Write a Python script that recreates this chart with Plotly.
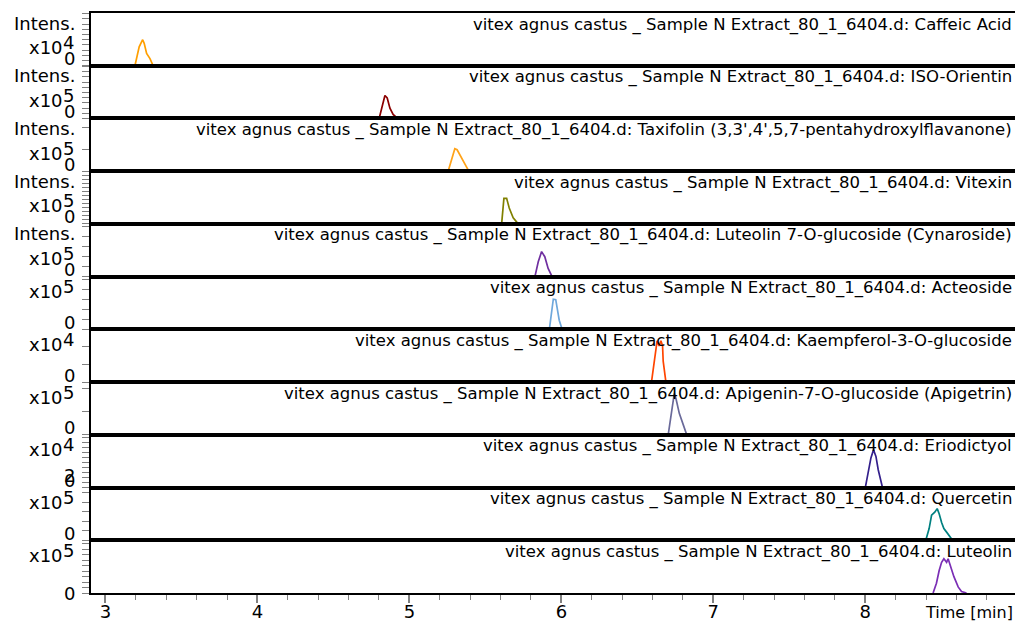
import plotly.graph_objects as go

# ---------------- data ----------------
sample = "vitex agnus castus _ Sample N Extract_80_1_6404.d: "
compounds = ["Caffeic Acid", "ISO-Orientin",
             "Taxifolin (3,3',4',5,7-pentahydroxylflavanone)", "Vitexin",
             "Luteolin 7-O-glucoside (Cynaroside)", "Acteoside",
             "Kaempferol-3-O-glucoside", "Apigenin-7-O-glucoside (Apigetrin)",
             "Eriodictyol", "Quercetin", "Luteolin"]
exponents = [4, 5, 5, 5, 5, 5, 4, 5, 4, 5, 5]
y_max = [6.0e4, 2.0e5, 2.4e5, 1.4e5, 1.6e5, 5.0e5, 3.0e4, 2.3e5, 5.0e4, 5.5e5, 1.0e6]

caffeic_t = [3.194, 3.212, 3.222, 3.245, 3.255, 3.271, 3.293, 3.314]
caffeic_i = [0, 12500, 21500, 29600, 25500, 13900, 8100, 0]
isoorientin_t = [4.801, 4.824, 4.839, 4.854, 4.872, 4.893, 4.922]
isoorientin_i = [0, 52000, 87000, 77500, 38700, 15500, 0]
taxifolin_t = [5.255, 5.278, 5.299, 5.314, 5.343, 5.365, 5.391]
taxifolin_i = [0, 60000, 102000, 97500, 60000, 30000, 0]
vitexin_t = [5.607, 5.615, 5.622, 5.640, 5.657, 5.683, 5.716]
vitexin_i = [0, 47400, 67800, 67800, 42000, 16300, 0]
cynaroside_t = [5.826, 5.848, 5.870, 5.891, 5.913, 5.939]
cynaroside_i = [0, 45000, 76000, 60500, 24800, 0]
acteoside_t = [5.921, 5.934, 5.947, 5.963, 5.976, 5.986, 6.005]
acteoside_i = [0, 169000, 286000, 281000, 169000, 87000, 0]
kaempferol_t = [6.593, 6.609, 6.622, 6.630, 6.643, 6.655, 6.666, 6.670, 6.688]
kaempferol_i = [0, 10200, 19700, 23500, 20600, 23500, 20600, 11900, 0]
apigetrin_t = [6.703, 6.719, 6.732, 6.743, 6.754, 6.776, 6.803, 6.825]
apigetrin_i = [0, 71200, 151000, 180000, 158000, 93500, 42300, 0]
eriodictyol_t = [8.000, 8.015, 8.037, 8.054, 8.070, 8.085, 8.113]
eriodictyol_i = [0, 12100, 28100, 35800, 29500, 16900, 0]
quercetin_t = [8.398, 8.420, 8.436, 8.457, 8.473, 8.486, 8.502, 8.517, 8.535, 8.551, 8.567, 8.596]
quercetin_i = [0, 122000, 261000, 293000, 330000, 277000, 186000, 122000, 85000, 53000, 16000, 0]
luteolin_t = [8.446, 8.468, 8.486, 8.502, 8.517, 8.535, 8.545, 8.561, 8.583, 8.611, 8.633, 8.666]
luteolin_i = [0, 184000, 426000, 581000, 649000, 581000, 649000, 494000, 310000, 116000, 29000, 0]

x_ticks = [3, 4, 5, 6, 7, 8]

# ---------------- styles ----------------
times = [caffeic_t, isoorientin_t, taxifolin_t, vitexin_t, cynaroside_t, acteoside_t,
         kaempferol_t, apigetrin_t, eriodictyol_t, quercetin_t, luteolin_t]
intens = [caffeic_i, isoorientin_i, taxifolin_i, vitexin_i, cynaroside_i, acteoside_i,
          kaempferol_i, apigetrin_i, eriodictyol_i, quercetin_i, luteolin_i]
colors = ["#FF9F00", "#8B0000", "#FFA31A", "#808000", "#7030A0", "#6FA8DC",
          "#FF4500", "#6A6A9A", "#34208C", "#008080", "#7B2FB5"]
tick_px = [5.2, 5.2, 22, 4, 10, 10, 17.6, 23, 5, 9.5, 5.5]

W, H = 1015, 624
ML, MR, MT, MB = 91, 0, 13, 31
n = len(compounds)
panel_px = (H - MT - MB) / n
xr = [2.905, 8.985]

fig = go.Figure()
layout = dict(width=W, height=H, margin=dict(l=ML, r=MR, t=MT, b=MB, autoexpand=False),
              paper_bgcolor="white", plot_bgcolor="white", showlegend=False,
              font=dict(family="DejaVu Sans", size=18, color="black"))
annotations = []
lab_font = dict(family="DejaVu Sans", size=18, color="black")
txt_font = dict(family="DejaVu Sans", size=16.5, color="black")

for i in range(n):
    k = "" if i == 0 else str(i + 1)
    top = 1 - i / n
    bot = 1 - (i + 1) / n
    fig.add_trace(go.Scatter(x=times[i], y=intens[i], mode="lines",
                             line=dict(color=colors[i], width=1.7),
                             xaxis="x" + k, yaxis="y" + k, hoverinfo="skip"))
    last = (i == n - 1)
    xa = dict(domain=[0, 1], range=xr, anchor="y" + k, showline=True, mirror=True,
              linecolor="black", linewidth=1.5, showgrid=False, zeroline=False,
              automargin=False)
    if i > 0:
        xa["matches"] = "x"
    if last:
        xa.update(ticks="outside", ticklen=8, tickwidth=1.5, tickcolor="#808080",
                  tickvals=x_ticks, showticklabels=True, ticklabelstandoff=-6,
                  tickfont=dict(family="DejaVu Sans", size=18),
                  minor=dict(dtick=0.2, ticks="outside", ticklen=5, tickwidth=1.2,
                             tickcolor="#808080"))
    else:
        xa.update(ticks="", showticklabels=False)
    layout["xaxis" + k] = xa
    dt = tick_px[i] / panel_px * y_max[i]
    layout["yaxis" + k] = dict(domain=[bot, top], range=[0, y_max[i]], anchor="x" + k,
                               showline=True, linecolor="black", linewidth=2,
                               ticks="outside", ticklen=7, tickwidth=1.3,
                               tickcolor="#808080", tick0=0, dtick=dt,
                               showticklabels=False, showgrid=False, zeroline=False,
                               automargin=False)
    # compound label
    annotations.append(dict(xref="paper", yref="paper", x=1, y=top, xanchor="right",
                            yanchor="middle", xshift=-1, yshift=-11.5, showarrow=False,
                            text=sample + compounds[i], font=txt_font))
    # left labels
    if i < 5:
        annotations.append(dict(xref="paper", yref="paper", x=0, y=top, xanchor="right",
                                yanchor="middle", xshift=-14, yshift=-10, showarrow=False,
                                text="Intens.", font=lab_font))
        x10_y, x10_shift = bot, 18
    else:
        x10_y, x10_shift = top, -15
    annotations.append(dict(xref="paper", yref="paper", x=0, y=x10_y, xanchor="right",
                            yanchor="middle", xshift=-26, yshift=x10_shift, showarrow=False,
                            text="x10", font=lab_font))
    annotations.append(dict(xref="paper", yref="paper", x=0, y=x10_y, xanchor="left",
                            yanchor="middle", xshift=-30, yshift=x10_shift + 5,
                            showarrow=False, text=str(exponents[i]), font=lab_font))
    zero_shift = 0 if last else 7
    annotations.append(dict(xref="paper", yref="paper", x=0, y=bot, xanchor="right",
                            yanchor="middle", xshift=-14, yshift=zero_shift, showarrow=False,
                            text="0", font=lab_font))
    if i == 8:
        annotations.append(dict(xref="paper", yref="paper", x=0, y=bot, xanchor="right",
                                yanchor="middle", xshift=-14, yshift=12, showarrow=False,
                                text="2", font=lab_font))

annotations.append(dict(xref="paper", yref="paper", x=1, y=0, xanchor="right",
                        yanchor="middle", xshift=0, yshift=-19, showarrow=False,
                        text="Time [min]", font=dict(family="DejaVu Sans", size=16)))
layout["annotations"] = annotations
fig.update_layout(**layout)
fig.write_html("out.html", config={"displayModeBar": False},
               post_script="document.body.style.margin='0px';")
